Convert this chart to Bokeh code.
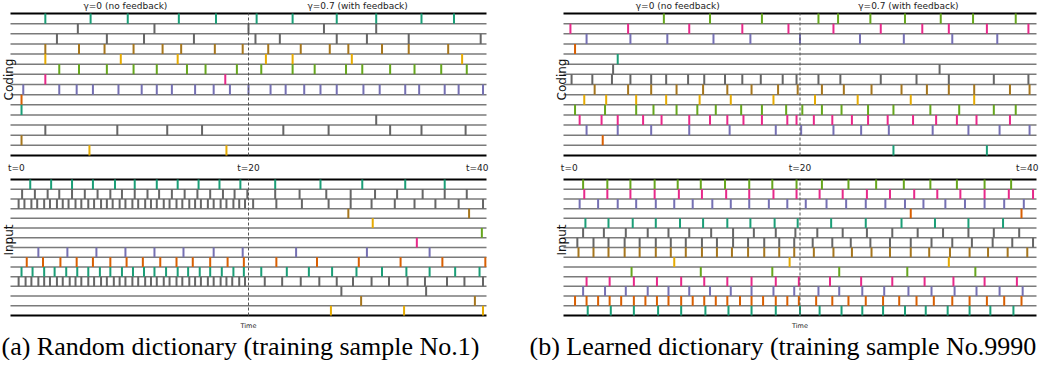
import math
from bokeh.plotting import figure
from bokeh.models import Range1d, ColumnDataSource, Label
from bokeh.layouts import row
from bokeh.embed import file_html
from bokeh.resources import INLINE

# ---------------- data (spike times, t units) ----------------
TEAL, ORANGE, PURPLE, PINK = "#1b9e77", "#d95f02", "#7570b3", "#e7298a"
GREEN, YELLOW, BROWN, GRAY = "#66a61e", "#e6ab02", "#a6761d", "#666666"

T_FEEDBACK = 20
T_TICKS = [0, 20, 40]
TITLES = ["γ=0 (no feedback)", "γ=0.7 (with feedback)"]
CAPTIONS = ["(a) Random dictionary (training sample No.1)",
            "(b) Learned dictionary (training sample No.9990"]

COLORS_A = [TEAL, GRAY, GRAY, BROWN, YELLOW, GREEN, PINK, PURPLE, ORANGE, TEAL, GRAY, GRAY, BROWN, YELLOW]
COLORS_B = [GREEN, PINK, PURPLE, ORANGE, TEAL, GRAY, GRAY, BROWN, YELLOW, GREEN, PINK, PURPLE, ORANGE, TEAL]

CODING_A = [
    [2.5, 6.4, 9.6, 14.0, 17.2, 20.7, 23.8, 27.6, 31.0, 34.9, 37.7],
    [5.3, 11.9, 20.0, 26.5, 31.0],
    [3.5, 7.8, 11.0, 15.3, 20.6, 22.7, 27.6, 30.2, 33.8, 40.0],
    [2.5, 5.4, 7.6, 10.1, 12.6, 14.2, 17.1, 19.5, 21.7, 24.5, 27.0, 28.6, 31.5, 33.8, 37.2],
    [2.5, 9.0, 13.9, 21.5, 23.8, 28.9, 38.4],
    [3.7, 5.4, 7.8, 10.1, 12.1, 14.7, 16.3, 19.0, 21.1, 23.8, 25.7, 28.4, 29.8, 32.2, 34.3, 36.6, 38.8],
    [2.5, 18.0],
    [0.6, 3.7, 5.2, 6.6, 8.8, 10.8, 12.1, 13.4, 15.4, 17.0, 18.4, 20.0, 21.9, 23.2, 24.8, 26.2,
     27.6, 29.9, 31.3, 33.5, 34.7, 36.9, 38.1, 40.2],
    [0.45],
    [0.45],
    [31.0],
    [2.5, 8.7, 13.0, 16.0, 23.0, 26.9, 32.2, 34.9, 38.7],
    [0.45],
    [6.3, 18.1],
]

INPUT_A = [
    [1.2, 3.0, 4.8, 6.6, 8.5, 10.2, 12.1, 13.9, 15.7, 17.5, 19.3, 22.3, 26.2, 29.8, 33.5, 36.9],
    [0.5, 1.6, 2.7, 3.7, 4.8, 5.9, 7.0, 8.1, 9.1, 10.2, 11.3, 12.3, 13.4, 14.5, 15.6, 16.7, 17.8,
     18.8, 19.9, 22.3, 24.4, 26.7, 28.8, 30.9, 32.8, 35.0, 36.9, 38.8],
    [0.2, 0.7, 1.3, 1.8, 2.4, 2.9, 3.5, 4.0, 4.5, 5.1, 5.6, 6.2, 6.7, 7.3, 7.8, 8.3, 8.9, 9.4,
     10.0, 10.5, 11.1, 11.6, 12.1, 12.7, 13.2, 13.8, 14.3, 14.9, 15.4, 15.9, 16.5, 17.0, 17.6,
     18.1, 18.7, 19.2, 19.7, 20.4, 22.4, 24.6, 26.9, 28.8, 30.6, 32.6, 34.3, 36.1, 38.1, 40.2],
    [28.6, 39.0],
    [30.7],
    [40.1],
    [34.5],
    [1.9, 4.4, 6.9, 9.4, 11.9, 14.4, 17.0, 19.5, 24.1, 30.2, 35.6],
    [0.9, 2.3, 3.8, 5.2, 6.6, 8.1, 9.5, 10.9, 12.4, 13.8, 15.2, 16.7, 18.2, 19.6, 22.4, 25.9,
     29.5, 33.1, 36.7, 40.4],
    [0.45, 1.4, 2.4, 3.3, 4.3, 5.25, 6.2, 7.2, 8.1, 9.1, 10.05, 11.0, 11.9, 12.9, 13.9, 14.8,
     15.8, 16.7, 17.7, 18.7, 19.6, 21.1, 23.3, 25.2, 27.2, 29.3, 31.5, 33.6, 35.6, 37.8, 39.9],
    [0.2, 0.8, 1.3, 1.9, 2.4, 2.9, 3.5, 4.0, 4.6, 5.1, 5.6, 6.2, 6.7, 7.3, 7.8, 8.4, 8.9, 9.4,
     10.0, 10.5, 11.1, 11.6, 12.1, 12.7, 13.2, 13.8, 14.3, 14.9, 15.4, 15.9, 16.5, 17.0, 17.6,
     18.1, 18.6, 19.2, 19.7, 21.4, 22.9, 24.5, 26.1, 27.6, 29.0, 30.6, 32.1, 33.7, 35.2, 37.1,
     38.6, 40.2],
    [28.0, 35.3],
    [29.7, 39.5],
    [27.1, 33.4, 40.2],
]

CODING_B = [
    [8.2, 12.2, 16.7, 21.6, 23.3, 26.1, 29.1, 32.2, 35.0, 38.7],
    [0.1, 5.1, 10.4, 15.0, 19.0, 22.9, 27.0, 30.6, 32.9, 36.2, 39.8],
    [1.5, 5.3, 8.5, 12.5, 15.7, 20.0, 25.2, 29.0, 33.2, 37.1],
    [0.5],
    [4.2],
    [3.8, 32.1],
    [0.2, 2.0, 3.7, 5.3, 7.1, 8.4, 10.3, 11.7, 13.5, 15.0, 16.6, 18.5, 19.7, 21.6, 23.5, 27.0,
     30.1, 32.9, 36.8, 39.8],
    [2.2, 5.1, 7.1, 9.3, 11.6, 13.7, 15.8, 18.1, 19.8, 21.9, 23.8, 26.2, 28.8, 31.0, 32.9, 35.1,
     38.2, 39.9],
    [1.3, 3.2, 5.8, 8.4, 11.3, 14.0, 17.7, 21.3, 25.0, 29.6, 35.1],
    [0.5, 3.1, 5.8, 7.3, 9.3, 11.1, 12.7, 14.9, 16.7, 18.8, 20.2, 21.9, 23.6, 25.9, 28.1, 31.3,
     33.8, 36.8, 38.7],
    [0.9, 2.8, 4.2, 6.4, 8.0, 10.4, 12.2, 13.7, 15.1, 16.7, 18.9, 19.7, 21.2, 22.8, 24.5, 25.9,
     27.6, 29.8, 31.8, 33.6, 35.3, 38.2],
    [1.5, 4.2, 7.1, 10.4, 13.9, 17.9, 20.1, 22.9, 25.3, 27.7, 31.5, 34.6, 37.3, 39.9],
    [2.9],
    [28.1, 36.2],
]

INPUT_B = [
    [1.2, 3.3, 5.3, 7.4, 9.4, 11.4, 13.5, 15.6, 17.6, 19.7, 21.9, 24.2, 26.6, 29.0, 31.3, 33.6,
     36.0, 38.3],
    [1.3, 3.3, 5.3, 7.4, 9.5, 11.5, 13.6, 15.6, 17.7, 19.7, 21.7, 23.7, 25.8, 27.8, 29.9, 31.9,
     33.9, 36.0, 38.1, 40.2],
    [0.9, 2.5, 4.2, 5.8, 7.5, 9.1, 10.7, 12.4, 14.0, 15.6, 17.3, 18.9, 20.5, 22.3, 24.0, 25.7,
     27.4, 29.1, 30.7, 32.6, 34.3, 36.0, 37.7, 39.4],
    [29.6, 39.2],
    [1.4, 3.4, 5.5, 7.5, 9.6, 11.6, 13.7, 15.7, 17.8, 19.8, 22.7, 25.7, 28.8, 31.7, 34.6, 37.6],
    [1.2, 3.0, 4.9, 6.8, 8.6, 10.4, 12.3, 14.2, 16.0, 17.9, 19.6, 21.5, 23.7, 25.8, 28.0, 30.2,
     32.4, 34.6, 36.8, 39.0],
    [0.7, 2.1, 3.4, 4.8, 6.1, 7.5, 8.8, 10.1, 11.5, 12.8, 14.2, 15.5, 16.9, 18.2, 19.5, 21.1,
     22.8, 24.4, 26.1, 27.8, 29.6, 31.4, 33.2, 34.9, 36.7, 38.4, 40.2],
    [0.8, 2.1, 3.4, 4.8, 6.1, 7.5, 8.8, 10.1, 11.5, 12.8, 14.1, 15.5, 16.9, 18.2, 19.5, 21.2,
     22.9, 24.5, 26.2, 27.8, 29.6, 31.2, 33.0, 34.7, 36.3, 38.0, 39.7],
    [9.1, 19.1, 32.9],
    [5.4, 11.4, 17.6, 23.4, 29.3, 35.2],
    [1.5, 3.5, 5.6, 7.6, 9.7, 11.7, 13.7, 15.8, 17.9, 19.9, 22.6, 25.3, 28.0, 30.8, 33.3, 36.0,
     38.8],
    [1.2, 3.1, 4.9, 6.8, 8.6, 10.4, 12.2, 14.0, 15.8, 17.7, 19.5, 21.6, 23.4, 25.4, 27.3, 29.4,
     31.4, 33.4, 35.3, 37.3, 39.3],
    [0.5, 1.5, 2.5, 3.5, 4.5, 5.6, 6.6, 7.6, 8.6, 9.7, 10.7, 11.7, 12.7, 13.7, 14.8, 15.8, 16.8,
     17.9, 18.9, 19.9, 21.4, 22.8, 24.2, 25.7, 27.2, 28.6, 30.1, 31.6, 33.2, 34.7, 36.2, 37.7,
     39.2],
    [1.6, 3.6, 5.6, 7.7, 9.7, 11.8, 13.8, 15.8, 17.9, 20.0, 21.7, 23.6, 25.4, 27.2, 29.1, 30.9,
     32.8, 34.7, 36.5, 38.5],
]

# ---------------- layout (pixels inside each figure) ----------------
H = 360
N_ROWS = 14
T_MIN, T_MAX = -0.5, 40.5
CODING_PX = (13, 155)
INPUT_PX = (179, 315)


def x_t_range(width, left_px, right_px):
    s = (right_px - left_px) / (T_MAX - T_MIN)
    return Range1d(T_MIN - left_px / s, T_MAX + (width - right_px) / s)


def y_row_range(top_px, bottom_px):
    s = (bottom_px - top_px) / N_ROWS
    return Range1d(-(H - bottom_px) / s, N_ROWS + top_px / s)


def raster(p, rows, colors, yname):
    xs, y0, y1, cs = [], [], [], []
    for k, (times, c) in enumerate(zip(rows, colors)):
        for t in times:
            xs.append(t)
            y0.append(N_ROWS - 1 - k)
            y1.append(N_ROWS - k)
            cs.append(c)
    src = ColumnDataSource(dict(x=xs, y0=y0, y1=y1, c=cs))
    levels = list(range(N_ROWS + 1))
    lsrc = ColumnDataSource(dict(
        y=levels,
        c=["#000000" if u in (0, N_ROWS) else "#7a7a7a" for u in levels],
        w=[2.0 if u in (0, N_ROWS) else 1.5 for u in levels],
        x0=[T_MIN] * len(levels), x1=[T_MAX] * len(levels)))
    p.segment(x0="x0", y0="y", x1="x1", y1="y", line_color="c", line_width="w",
              source=lsrc, x_range_name="t", y_range_name=yname)
    p.segment(x0="x", y0="y0", x1="x", y1="y1", line_color="c", line_width=2,
              line_cap="butt", source=src, x_range_name="t", y_range_name=yname)
    p.segment(x0=[T_FEEDBACK], y0=[0], x1=[T_FEEDBACK], y1=[N_ROWS], line_color="#555555",
              line_width=1, line_dash="3 2", x_range_name="t", y_range_name=yname)


def panel(width, left_px, right_px, coding, input_, colors, ylabel_x, caption, cap_x, cap_align):
    p = figure(width=width, height=H, x_range=Range1d(0, width), y_range=Range1d(H, 0),
               output_backend="svg", toolbar_location=None, min_border=0,
               x_axis_location=None, y_axis_location=None)
    p.grid.visible = False
    p.outline_line_color = None
    p.extra_x_ranges = {"t": x_t_range(width, left_px, right_px)}
    p.extra_y_ranges = {"coding": y_row_range(*CODING_PX), "input": y_row_range(*INPUT_PX)}
    raster(p, coding, colors, "coding")
    raster(p, input_, colors, "input")

    small = dict(text_font="DejaVu Sans", text_color="#222222", text_align="center",
                 text_baseline="middle", x_range_name="t")
    for xt, txt in zip([9.4, 29.4], TITLES):
        p.add_layout(Label(x=xt, y=5, text=txt, text_font_size="9px", **small))
    for tt in T_TICKS:
        p.add_layout(Label(x=min(tt, 39.7), y=167, text=f"t={tt}", text_font_size="9px", **small))
    p.add_layout(Label(x=T_FEEDBACK, y=325, text="Time", text_font_size="6.5px", **small))
    for txt, yy in [("Coding", 79), ("Input", 239.5)]:
        p.add_layout(Label(x=ylabel_x, y=yy, text=txt, angle=math.pi / 2, text_font="DejaVu Sans",
                           text_font_size="12px", text_color="#111111", text_align="center",
                           text_baseline="middle"))
    p.add_layout(Label(x=cap_x, y=346, text=caption, text_font="Liberation Serif",
                       text_font_size="26px", text_color="#000000", text_align=cap_align,
                       text_baseline="middle"))
    return p


pa = panel(519, 10, 486, CODING_A, INPUT_A, COLORS_A, 8, CAPTIONS[0], 240, "center")
pb = panel(520, 44, 517, CODING_B, INPUT_B, COLORS_B, 42, CAPTIONS[1], 10, "left")

layout = row(pa, pb)
open("out.html", "w").write(file_html(layout, INLINE))
